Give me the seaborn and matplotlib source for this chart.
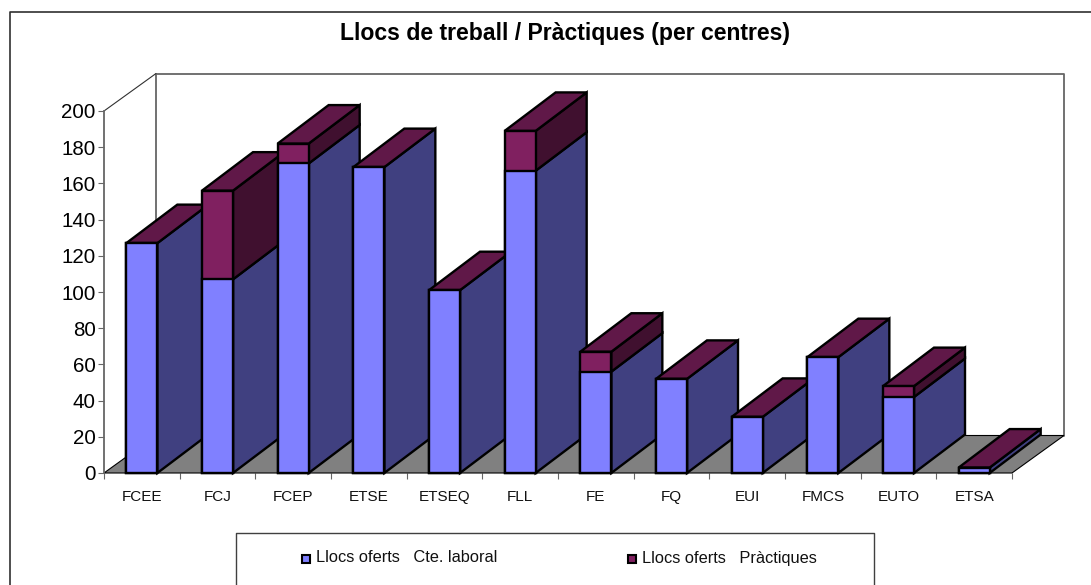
import numpy as np
import pandas as pd
import matplotlib
matplotlib.use("Agg")
import matplotlib.pyplot as plt
from matplotlib.lines import Line2D
from matplotlib.patches import Polygon, Rectangle
import seaborn as sns

# valors llegits del gràfic
centres = ["FCEE", "FCJ", "FCEP", "ETSE", "ETSEQ", "FLL", "FE", "FQ", "EUI", "FMCS", "EUTO", "ETSA"]
laboral = [127, 107, 171, 169, 101, 167, 56, 52, 31, 64, 42, 3]
practiques = [0, 49, 11, 0, 0, 22, 11, 0, 0, 0, 6, 0]
yticks = list(range(0, 201, 20))

W, H = 1091, 585
sns.set_theme(style="white")
plt.rcParams["font.family"] = ["Liberation Sans", "DejaVu Sans"]

df = pd.DataFrame({"centre": centres, "laboral": laboral, "practiques": practiques})
df["total"] = df["laboral"] + df["practiques"]

def fx(x):
    return x / W

def fy(y):
    return 1 - y / H

fig = plt.figure(figsize=(W / 100, H / 100), dpi=100, facecolor="white")
ax = fig.add_axes([fx(104), fy(473), 908 / W, 362 / H], facecolor="none")

# ── barres frontals ──
sns.barplot(data=df, x="centre", y="total", color="#802060", saturation=1, width=0.41,
            edgecolor="black", linewidth=1.7, errorbar=None, ax=ax)
sns.barplot(data=df, x="centre", y="laboral", color="#8080FF", saturation=1, width=0.41,
            edgecolor="black", linewidth=1.7, errorbar=None, ax=ax)
ax.set_xlim(-0.5, 11.5)
ax.set_ylim(0, 200)

px_x = 908 / 12    # px per categoria
px_y = 362 / 200   # px per unitat
dx = 51 / px_x     # profunditat de les barres
dy = 38.5 / px_y
wall_dx = 52 / px_x
wall_dy = 37.5 / px_y

for cont, z in zip(ax.containers, [0.4, 0.5]):
    for i, bar in enumerate(cont):
        bar.set_zorder(4 + i + z)
        bar.set_clip_on(False)

def poly(pts, color, z, lw=1.7):
    ax.add_patch(Polygon(pts, closed=True, facecolor=color, edgecolor="black", linewidth=lw,
                         joinstyle="miter", zorder=z, clip_on=False))

# ── cares laterals i superiors ──
for i, (lab, tot) in enumerate(zip(df["laboral"], df["total"])):
    r = i + 0.205
    l = i - 0.205
    poly([(r, 0), (r + dx, dy), (r + dx, lab + dy), (r, lab)], "#404080", 4 + i + 0.1)
    if tot > lab:
        poly([(r, lab), (r + dx, lab + dy), (r + dx, tot + dy), (r, tot)], "#40102F", 4 + i + 0.2)
    poly([(l, tot), (l + dx, tot + dy), (r + dx, tot + dy), (r, tot)], "#601848", 4 + i + 0.3)

# ── terra i parets ──
x0, x1 = -0.5, 11.5
poly([(x0, 0), (x0 + wall_dx, wall_dy), (x1 + wall_dx, wall_dy), (x1, 0)], "#808080", 1, lw=0.8)
wall = "#666666"
ax.plot([x0 + wall_dx, x0 + wall_dx, x1 + wall_dx, x1 + wall_dx],
        [wall_dy, 200 + wall_dy, 200 + wall_dy, wall_dy],
        color=wall, lw=1.3, clip_on=False, zorder=0.5)
ax.plot([x0, x0 + wall_dx], [200, 200 + wall_dy], color="#303030", lw=0.8, clip_on=False, zorder=0.5)

# ── eixos ──
for s in ["top", "right", "bottom"]:
    ax.spines[s].set_visible(False)
ax.spines["left"].set_color(wall)
ax.spines["left"].set_linewidth(1.3)
ax.set_xlabel("")
ax.set_ylabel("")
ax.set_yticks(yticks)
ax.tick_params(axis="y", left=True, length=4.5, width=0.8, color=wall, labelsize=14.8,
               labelcolor="black", pad=1.5)
ax.set_xticks(np.arange(12))
ax.set_xticklabels(centres, va="baseline")
ax.set_xticks(np.arange(13) - 0.5, minor=True)
ax.tick_params(axis="x", which="major", bottom=False, labelsize=11, labelcolor="#111111", pad=14.5)
ax.tick_params(axis="x", which="minor", bottom=True, length=4.5, width=0.8, color=wall)

# ── títol i requadres ──
fig.text(fx(565), fy(33.5), "Llocs de treball / Pràctiques (per centres)", ha="center", va="center",
         fontsize=16.6, fontweight="bold", color="black")
fig.add_artist(Line2D([fx(10), fx(10), fx(1091)], [fy(585), fy(12), fy(12)], color="#303030", lw=1.2))

fig.add_artist(Line2D([fx(236), fx(236), fx(874), fx(874)], [fy(585), fy(533), fy(533), fy(585)],
                      color="#404040", lw=1))
for xm, col, label, xt in [(302, "#8080FF", "Llocs oferts   Cte. laboral", 316),
                           (628, "#802060", "Llocs oferts   Pràctiques", 642)]:
    fig.add_artist(Rectangle((fx(xm), fy(562.5)), 7.5 / W, 7.5 / H, transform=fig.transFigure,
                             facecolor=col, edgecolor="black", linewidth=1.5))
    fig.text(fx(xt), fy(558), label, ha="left", va="center", fontsize=11.8, color="#111111")

fig.savefig("out.png", dpi=100)
